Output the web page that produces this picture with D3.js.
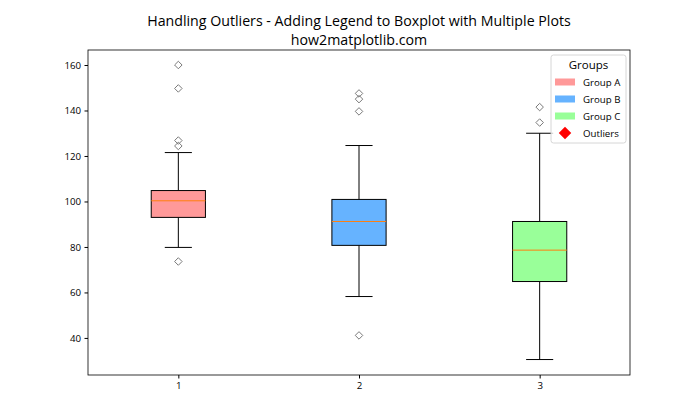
<!DOCTYPE html>
<html><head><meta charset="utf-8">
<script src="https://cdn.jsdelivr.net/npm/d3@7"></script>
<style>body{margin:0;background:#fff;} text{font-family:"Open Sans","Noto Sans",sans-serif;}</style>
</head><body><svg id="c" width="700" height="420"></svg>
<script>
const groups = ["Group A","Group B","Group C"];
const positions = [1,2,3];
const q1 = [93, 80.7, 64.8];
const medians = [100.3, 91.2, 78.6];
const q3 = [104.8, 100.9, 91.2];
const whiskerLow = [79.8, 58.2, 30.5];
const whiskerHigh = [121.5, 124.6, 130];
const outliers = [[160,149.7,126.8,124.4,73.6],[147.5,145,139.6,41.1],[141.5,134.7]];
const colors = ["#ff9999","#66b3ff","#99ff99"];
const yTicks = [40,60,80,100,120,140,160];
const xTickLabels = ["1","2","3"];

const svg = d3.select("#c");
const L=88,R=630,T=50,B=375;
const x = d3.scaleLinear().domain([0.5,3.5]).range([L,R]);
const y = d3.scaleLinear().domain([23.7,166.6]).range([B,T]);
const bw = 0.3;

svg.append("text").attr("x",359).attr("y",26).attr("text-anchor","middle").attr("font-size",14.2).attr("fill","#000").text("Handling Outliers - Adding Legend to Boxplot with Multiple Plots");
svg.append("text").attr("x",359).attr("y",45).attr("text-anchor","middle").attr("font-size",14.2).attr("fill","#000").text("how2matplotlib.com");

const yAxis = d3.axisLeft(y).tickValues(yTicks).tickSize(3.5).tickPadding(3.5);
const gy = svg.append("g").attr("transform",`translate(${L},0)`).call(yAxis);
gy.select(".domain").remove();
gy.selectAll("text").attr("font-size",9.7).attr("fill","#000").style("font-family","'Open Sans',sans-serif");
const xAxis = d3.axisBottom(x).tickValues(positions).tickFormat((d,i)=>xTickLabels[i]).tickSize(3.5).tickPadding(3.5);
const gx = svg.append("g").attr("transform",`translate(0,${B})`).call(xAxis);
gx.select(".domain").remove();
gx.selectAll("text").attr("font-size",9.7).attr("fill","#000").style("font-family","'Open Sans',sans-serif");

const g = svg.append("g");
positions.forEach((p,i)=>{
  const cx = x(p);
  const hw = x(p+bw/2)-cx;
  const qw = hw/2;
  g.append("line").attr("x1",cx).attr("x2",cx).attr("y1",y(q3[i])).attr("y2",y(whiskerHigh[i])).attr("stroke","#000").attr("stroke-width",1);
  g.append("line").attr("x1",cx).attr("x2",cx).attr("y1",y(q1[i])).attr("y2",y(whiskerLow[i])).attr("stroke","#000").attr("stroke-width",1);
  g.append("line").attr("x1",cx-qw).attr("x2",cx+qw).attr("y1",y(whiskerHigh[i])).attr("y2",y(whiskerHigh[i])).attr("stroke","#000");
  g.append("line").attr("x1",cx-qw).attr("x2",cx+qw).attr("y1",y(whiskerLow[i])).attr("y2",y(whiskerLow[i])).attr("stroke","#000");
  g.append("rect").attr("x",cx-hw).attr("width",2*hw).attr("y",y(q3[i])).attr("height",y(q1[i])-y(q3[i])).attr("fill",colors[i]).attr("stroke","#000").attr("stroke-width",1);
  g.append("line").attr("x1",cx-hw).attr("x2",cx+hw).attr("y1",y(medians[i])).attr("y2",y(medians[i])).attr("stroke","#ff7f0e").attr("stroke-width",1);
  outliers[i].forEach(v=>{
    g.append("path").attr("d",d3.symbol(d3.symbolDiamond2,36)()).attr("transform",`translate(${cx},${y(v)})`).attr("fill","none").attr("stroke","#7a7a7a").attr("stroke-width",1);
  });
});

svg.append("rect").attr("x",L).attr("y",T).attr("width",R-L).attr("height",B-T).attr("fill","none").attr("stroke","#000").attr("stroke-width",0.8);

// legend
const lg = svg.append("g");
lg.append("rect").attr("x",551).attr("y",55).attr("width",75).attr("height",88).attr("rx",2.5).attr("fill","#fff").attr("fill-opacity",0.8).attr("stroke","#cccccc").attr("stroke-width",0.8);
lg.append("text").attr("x",588.5).attr("y",69).attr("text-anchor","middle").attr("font-size",11.5).attr("fill","#000").text("Groups");
const rows = [82,99,116];
groups.forEach((gname,i)=>{
  lg.append("rect").attr("x",555).attr("y",rows[i]-3.5).attr("width",20).attr("height",7).attr("fill",colors[i]);
  lg.append("text").attr("x",583).attr("y",rows[i]+3.5).attr("font-size",9.7).attr("fill","#000").text(gname);
});
lg.append("path").attr("d",d3.symbol(d3.symbolDiamond2,100)()).attr("transform",`translate(565,133)`).attr("fill","red");
lg.append("text").attr("x",583).attr("y",136.5).attr("font-size",9.7).attr("fill","#000").text("Outliers");
</script></body></html>
